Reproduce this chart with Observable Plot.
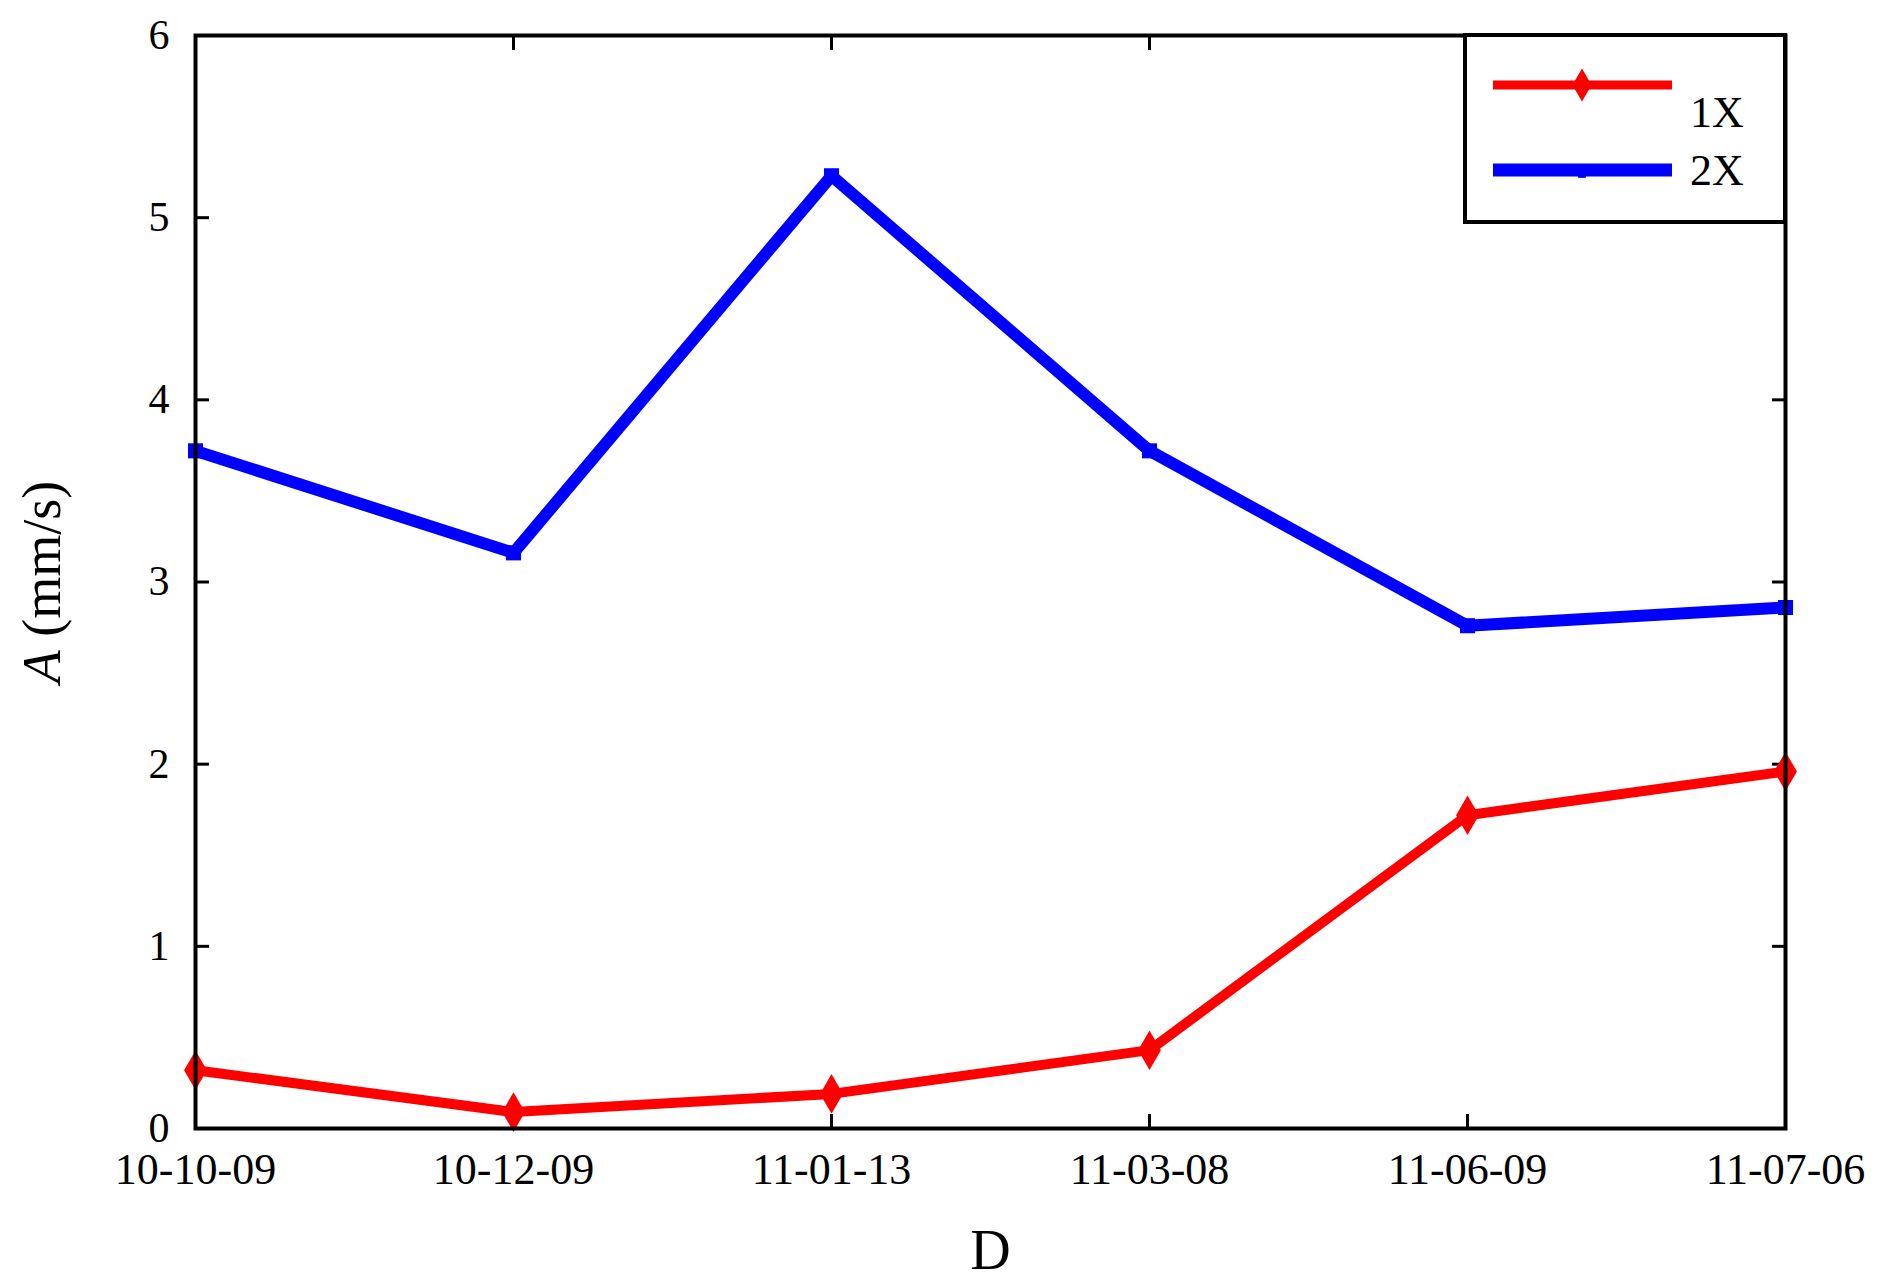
<!DOCTYPE html>
<html>
<head>
<meta charset="utf-8">
<script src="https://cdn.jsdelivr.net/npm/d3@7"></script>
<script src="https://cdn.jsdelivr.net/npm/@observablehq/plot@0.6"></script>
<style>
  html, body { margin: 0; padding: 0; background: #fff; }
  #wrap { position: relative; width: 1879px; height: 1286px; }
  #legend { position: absolute; left: 0; top: 0; }
</style>
</head>
<body>
<div id="wrap"></div>
<script>
const dates = ["10-10-09", "10-12-09", "11-01-13", "11-03-08", "11-06-09", "11-07-06"];
const series1X = [0.32, 0.09, 0.19, 0.43, 1.72, 1.96];
const series2X = [3.72, 3.16, 5.23, 3.72, 2.76, 2.86];
const yTicks = [0, 1, 2, 3, 4, 5, 6];
const seriesNames = ["1X", "2X"];
const seriesColors = ["#ff0000", "#0000ff"];

const rows = [];
dates.forEach((d, i) => {
  rows.push({date: d, value: series1X[i], series: "1X"});
  rows.push({date: d, value: series2X[i], series: "2X"});
});
const r1 = rows.filter(r => r.series === "1X");
const r2 = rows.filter(r => r.series === "2X");

const FONT = "'Liberation Serif', 'DejaVu Serif', serif";
const W = 1879, H = 1286;
const mL = 195, mR = 94, mT = 35, mB = 158;

const chart = Plot.plot({
  width: W,
  height: H,
  marginLeft: mL,
  marginRight: mR,
  marginTop: mT,
  marginBottom: mB,
  style: {fontFamily: FONT, background: "#fff", color: "#000"},
  x: {type: "point", domain: dates, padding: 0},
  y: {domain: [0, 6]},
  marks: [
    // inward ticks
    Plot.axisX({anchor: "bottom", ticks: dates, tickSize: -14, text: null, label: null, strokeWidth: 3}),
    Plot.axisX({anchor: "top", ticks: dates, tickSize: -14, text: null, label: null, strokeWidth: 3}),
    Plot.axisY({anchor: "left", ticks: yTicks, tickSize: -14, text: null, label: null, strokeWidth: 3}),
    Plot.axisY({anchor: "right", ticks: yTicks, tickSize: -14, text: null, label: null, strokeWidth: 3}),
    // labels
    Plot.axisX({anchor: "bottom", ticks: dates, tickSize: 0, tickPadding: 24, fontSize: 44,
      label: "D", labelAnchor: "center", labelArrow: "none", labelOffset: 140}),
    Plot.axisY({anchor: "left", ticks: yTicks, tickFormat: d3.format("d"), tickSize: 0, tickPadding: 26, fontSize: 42,
      label: "A (mm/s)", labelAnchor: "center", labelArrow: "none", labelOffset: 174}),
    Plot.lineY(r1, {x: "date", y: "value", stroke: seriesColors[0], strokeWidth: 10}),
    Plot.lineY(r2, {x: "date", y: "value", stroke: seriesColors[1], strokeWidth: 12}),
    Plot.dot(r1, {x: "date", y: "value", symbol: "diamond", r: 12, fill: seriesColors[0]}),
    Plot.dot(r2, {x: "date", y: "value", symbol: "square", r: 8.5, fill: seriesColors[1]}),
    Plot.frame({stroke: "#000", strokeWidth: 4})
  ]
});

document.getElementById("wrap").appendChild(chart);

// style axis labels
const svg = d3.select(chart);
svg.selectAll("text").each(function() {
  const t = d3.select(this);
  const s = (this.textContent || "").trim();
  if (s.includes("mm/s")) {
    t.selectAll("*").remove();
    t.text(null);
    t.attr("font-size", 54).style("font-size", "54px");
    t.append("tspan").attr("font-style", "italic").style("font-style", "italic").text("A");
    t.append("tspan").style("font-style", "normal").text(" (mm/s)");
  } else if (s === "D") {
    t.attr("font-size", 56).style("font-size", "56px");
  }
});

// legend overlay (box inside upper right of the plot frame)
const frameRight = W - mR;
const legendBox = {x0: 1465, x1: frameRight, y0: mT, y1: 222};
const lg = d3.select("#wrap").append("svg")
  .attr("id", "legend")
  .attr("width", W).attr("height", H)
  .style("pointer-events", "none");
lg.append("rect")
  .attr("x", legendBox.x0).attr("y", legendBox.y0)
  .attr("width", legendBox.x1 - legendBox.x0).attr("height", legendBox.y1 - legendBox.y0)
  .attr("fill", "#fff").attr("stroke", "#000").attr("stroke-width", 4);
const rowsY = [85, 170];
const textY = [112, 170];
seriesNames.forEach((name, i) => {
  lg.append("line")
    .attr("x1", 1493).attr("x2", 1672).attr("y1", rowsY[i]).attr("y2", rowsY[i])
    .attr("stroke", seriesColors[i]).attr("stroke-width", i === 0 ? 9 : 13);
  const sym = i === 0 ? d3.symbol(d3.symbolDiamond, 12 * 12 * Math.PI * 0.7)() : d3.symbol(d3.symbolSquare, 60)();
  lg.append("path")
    .attr("d", sym)
    .attr("transform", `translate(1582,${rowsY[i] + (i === 0 ? 0 : 4)})`)
    .attr("fill", seriesColors[i]);
  lg.append("text")
    .attr("x", 1690).attr("y", textY[i])
    .attr("dy", "0.35em")
    .attr("font-family", FONT)
    .attr("font-size", 44)
    .text(name);
});
</script>
</body>
</html>
